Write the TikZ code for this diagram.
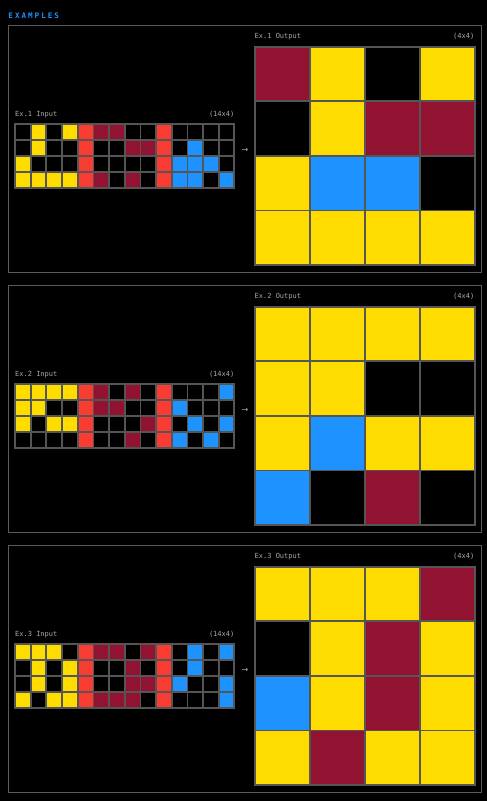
\documentclass[tikz,border=0pt]{standalone}
\usepackage{fontspec}
\setmonofont{DejaVu Sans Mono}
\newfontfamily\titlefont[LetterSpace=26,BoldFont={DejaVu Sans Mono Bold}]{DejaVu Sans Mono}
\newfontfamily\arrowfont{DejaVu Sans}
\definecolor{gK}{HTML}{000000}
\definecolor{gY}{HTML}{FFDC00}
\definecolor{gR}{HTML}{F93C31}
\definecolor{gM}{HTML}{921231}
\definecolor{gB}{HTML}{1E93FF}
\definecolor{linec}{HTML}{555555}
\definecolor{panelc}{HTML}{5A5A5A}
\definecolor{lblc}{HTML}{A8A8A8}
\tikzset{
  lbl/.style={inner sep=0pt, text=lblc, font=\ttfamily\fontsize{7}{8}\selectfont},
  panelbox/.style={draw=panelc, line width=1pt},
  gridline/.style={draw=linec, line width=1.7pt},
  gridframe/.style={draw=linec, line width=2.2pt},
  arrowlbl/.style={inner sep=0pt, text=lblc, font=\arrowfont\fontsize{8}{9}\selectfont},
}
% #1 x0, #2 y0, #3 w, #4 h, #5 list of colours
\newcommand\cellrow[5]{%
  \foreach \c [count=\i from 0] in {#5}{\fill[fill=g\c] ({#1+\i*#3},{#2}) rectangle ++(#3,#4);}}
% #1 example, #2 offset, #3-#6 rows
\newcommand\inpanel[6]{%
  \draw[panelbox] (8.5,{25.5+#2}) rectangle (481.5,{272+#2});
  \node[lbl, anchor=base west] (inl#1) at (15,{116.5+#2}) {Ex.#1 Input};
  \node[lbl, anchor=base east] (ind#1) at (234.5,{116.5+#2}) {(14x4)};
  \node[lbl, anchor=base west] (outl#1) at (254.5,{38+#2}) {Ex.#1 Output};
  \node[lbl, anchor=base east] (outd#1) at (474.5,{38+#2}) {(4x4)};
  \node[arrowlbl, anchor=base] (arr#1) at (245,{152.5+#2}) {→};
  \cellrow{15}{124+#2}{15.67}{15.92}{#3}
  \cellrow{15}{124+15.92+#2}{15.67}{15.92}{#4}
  \cellrow{15}{124+2*15.92+#2}{15.67}{15.92}{#5}
  \cellrow{15}{124+3*15.92+#2}{15.67}{15.92}{#6}
  \foreach \i in {1,...,13}{\draw[gridline] ({15+\i*15.67},{124+#2}) -- ++(0,63.68);}
  \foreach \j in {1,2,3}{\draw[gridline] (15,{124+\j*15.92+#2}) -- ++(219.38,0);}
  \draw[gridframe] (15,{124+#2}) rectangle ++(219.38,63.68);
}
% #1 offset, #2-#5 rows
\newcommand\outgrid[5]{%
  \cellrow{255.3}{46.7+#1}{54.85}{54.6}{#2}
  \cellrow{255.3}{46.7+54.6+#1}{54.85}{54.6}{#3}
  \cellrow{255.3}{46.7+2*54.6+#1}{54.85}{54.6}{#4}
  \cellrow{255.3}{46.7+3*54.6+#1}{54.85}{54.6}{#5}
  \foreach \i in {1,2,3}{\draw[gridline] ({255.3+\i*54.85},{46.7+#1}) -- ++(0,218.4);}
  \foreach \j in {1,2,3}{\draw[gridline] (255.3,{46.7+\j*54.6+#1}) -- ++(219.4,0);}
  \draw[gridframe] (255.3,{46.7+#1}) rectangle ++(219.4,218.4);
}
\begin{document}
\begin{tikzpicture}[x=1pt,y=-1pt]
\useasboundingbox (0,0) rectangle (487,801);
\fill[black] (0,0) rectangle (487,801);
\node[anchor=base west, inner sep=0pt, text=gB, font=\titlefont\bfseries\fontsize{7.6}{8}\selectfont] (title) at (8.3,18.2) {EXAMPLES};

\inpanel{1}{0}{K,Y,K,Y,R,M,M,K,K,R,K,K,K,K}{K,Y,K,K,R,K,K,M,M,R,K,B,K,K}{Y,K,K,K,R,K,K,K,K,R,B,B,B,K}{Y,Y,Y,Y,R,M,K,M,K,R,B,B,K,B}
\outgrid{0}{M,Y,K,Y}{K,Y,M,M}{Y,B,B,K}{Y,Y,Y,Y}

\inpanel{2}{260}{Y,Y,Y,Y,R,M,K,M,K,R,K,K,K,B}{Y,Y,K,K,R,M,M,K,K,R,B,K,K,K}{Y,K,Y,Y,R,K,K,K,M,R,K,B,K,B}{K,K,K,K,R,K,K,M,K,R,B,K,B,K}
\outgrid{260}{Y,Y,Y,Y}{Y,Y,K,K}{Y,B,Y,Y}{B,K,M,K}

\inpanel{3}{520}{Y,Y,Y,K,R,M,M,K,M,R,K,B,K,B}{K,Y,K,Y,R,K,K,M,K,R,K,B,K,K}{K,Y,K,Y,R,K,K,M,M,R,B,K,K,B}{Y,K,Y,Y,R,M,M,M,K,R,K,K,K,B}
\outgrid{520}{Y,Y,Y,M}{K,Y,M,Y}{B,Y,M,Y}{Y,M,Y,Y}
\end{tikzpicture}
\end{document}
